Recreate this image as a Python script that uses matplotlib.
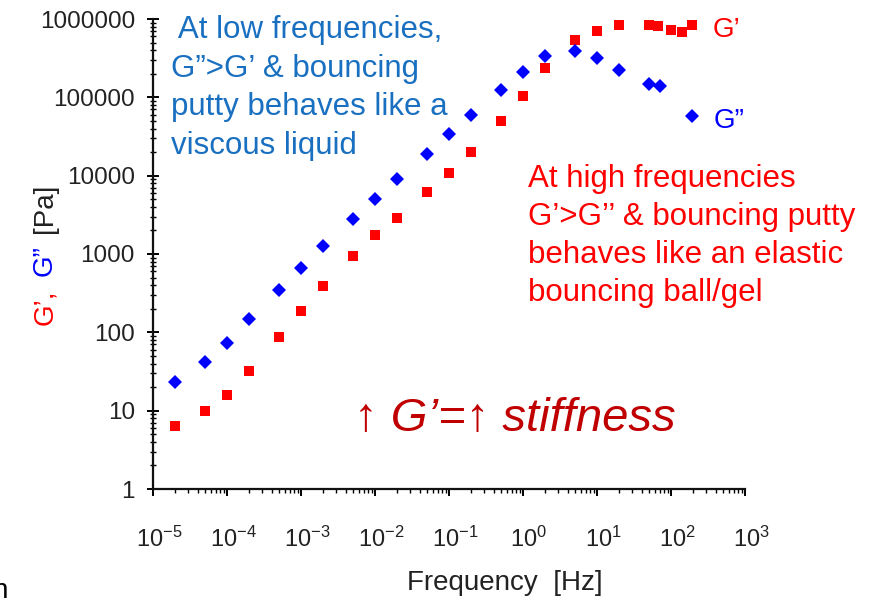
import matplotlib
matplotlib.use("Agg")
import matplotlib.pyplot as plt
import matplotlib.ticker as mticker
import matplotlib.transforms as mtransforms

plt.rcParams['font.family'] = ['Liberation Sans', 'DejaVu Sans']
plt.rcParams['mathtext.default'] = 'regular'

# storage modulus G' (squares)
freq_g1 = [2e-5, 5e-5, 1e-4, 2e-4, 5e-4, 1e-3, 2e-3, 5e-3, 1e-2, 2e-2, 5e-2, 0.1,
           0.2, 0.5, 1, 2, 5, 10, 20, 50, 67, 100, 140, 195]
g1 = [6.4, 10, 16, 32, 88, 185, 385, 930, 1730, 2900, 6100, 10700,
      19900, 49500, 103000, 236000, 538000, 700000, 840000, 840000, 815000,
      725000, 680000, 840000]

# loss modulus G'' (diamonds)
freq_g2 = [2e-5, 5e-5, 1e-4, 2e-4, 5e-4, 1e-3, 2e-3, 5e-3, 1e-2, 2e-2, 5e-2, 0.1,
           0.2, 0.5, 1, 2, 5, 10, 20, 50, 70, 190]
g2 = [23, 42, 74, 150, 350, 670, 1250, 2760, 5000, 9000, 18700, 33700,
      59000, 124000, 210000, 336000, 390000, 317000, 222000, 150000, 138000, 57000]

y_ticks = [1, 10, 100, 1000, 10000, 100000, 1000000]

RED = '#ff0000'
BLUE = '#0000ff'
TXT_BLUE = '#1a70c0'
DARK_RED = '#c00000'
GREY = '#222222'

fig = plt.figure(figsize=(8.73, 5.98), dpi=100)
ax = fig.add_axes([153 / 873, 1 - 489 / 598, (745 - 153) / 873, (489 - 19) / 598])

ax.plot(freq_g1, g1, 's', color=RED, markersize=7.5, markeredgewidth=0)
ax.plot(freq_g2, g2, 'D', color=BLUE, markersize=7.5, markeredgewidth=0)

ax.set_xscale('log')
ax.set_yscale('log')
ax.set_xlim(1e-5, 1e3)
ax.set_ylim(1, 1e6)

for side in ('top', 'right'):
    ax.spines[side].set_visible(False)
for side in ('left', 'bottom'):
    ax.spines[side].set_linewidth(1.6)
    ax.spines[side].set_color('#111111')

ax.set_yticks(y_ticks)
ax.yaxis.set_major_formatter(mticker.FuncFormatter(lambda v, p: '%d' % round(v)))
ax.xaxis.set_major_locator(mticker.LogLocator(base=10, numticks=20))
ax.xaxis.set_minor_locator(mticker.LogLocator(base=10, subs=range(2, 10), numticks=20))
ax.yaxis.set_minor_locator(mticker.LogLocator(base=10, subs=range(2, 10), numticks=20))
ax.xaxis.set_minor_formatter(mticker.NullFormatter())
ax.yaxis.set_minor_formatter(mticker.NullFormatter())

ax.tick_params(axis='y', which='major', direction='inout', length=8, width=1.4,
               pad=9, labelsize=17.5, labelcolor=GREY)
ax.tick_params(axis='y', which='minor', direction='inout', length=5, width=1.0)
ax.tick_params(axis='x', which='major', direction='out', length=5, width=1.4,
               pad=22, labelsize=17, labelcolor=GREY)
ax.tick_params(axis='x', which='minor', direction='out', length=3, width=1.0)

# shift the decade labels a little to the right of their ticks
shift = mtransforms.ScaledTranslation(6 / 100, 0, fig.dpi_scale_trans)
for lab in ax.get_xticklabels():
    lab.set_transform(lab.get_transform() + shift)

# axis titles
fig.text(505 / 873, 1 - 583 / 598, 'Frequency  [Hz]', ha='center', va='center',
         fontsize=20, color=GREY)
ylab = dict(rotation=90, rotation_mode='anchor', ha='left', va='baseline', fontsize=20)
fig.text(52 / 873, 1 - 325 / 598, 'G\u2019,', color=RED, **ylab)
fig.text(52 / 873, 1 - 276 / 598, 'G\u201d', color=BLUE, **ylab)
fig.text(52 / 873, 1 - 233 / 598, '[Pa]', color=GREY, **ylab)

# series labels
ax.text(370, 7.2e5, 'G\u2019', color=RED, fontsize=20, va='center', ha='left')
ax.text(380, 5.0e4, 'G\u201d', color=BLUE, fontsize=20, va='center', ha='left')

# annotations
ax.text(1.75e-5, 1.12e6, ' At low frequencies,\nG\u201d>G\u2019 & bouncing\n'
        'putty behaves like a\nviscous liquid',
        color=TXT_BLUE, fontsize=22.5, va='top', ha='left', linespacing=1.37)
ax.text(1.17, 1.4e4, 'At high frequencies\nG\u2019>G\u2019\u2019 & bouncing putty\n'
        'behaves like an elastic\nbouncing ball/gel',
        color=RED, fontsize=22.5, va='top', ha='left', linespacing=1.35)
ax.text(0.78, 7.8, '\u2191 G\u2019=\u2191 stiffness', color=DARK_RED, fontsize=34,
        style='italic', ha='center', va='center')

fig.text(-8 / 873, -6 / 598, 'n', fontsize=20, color='black', ha='left', va='bottom')

fig.savefig('out.png', dpi=100)
